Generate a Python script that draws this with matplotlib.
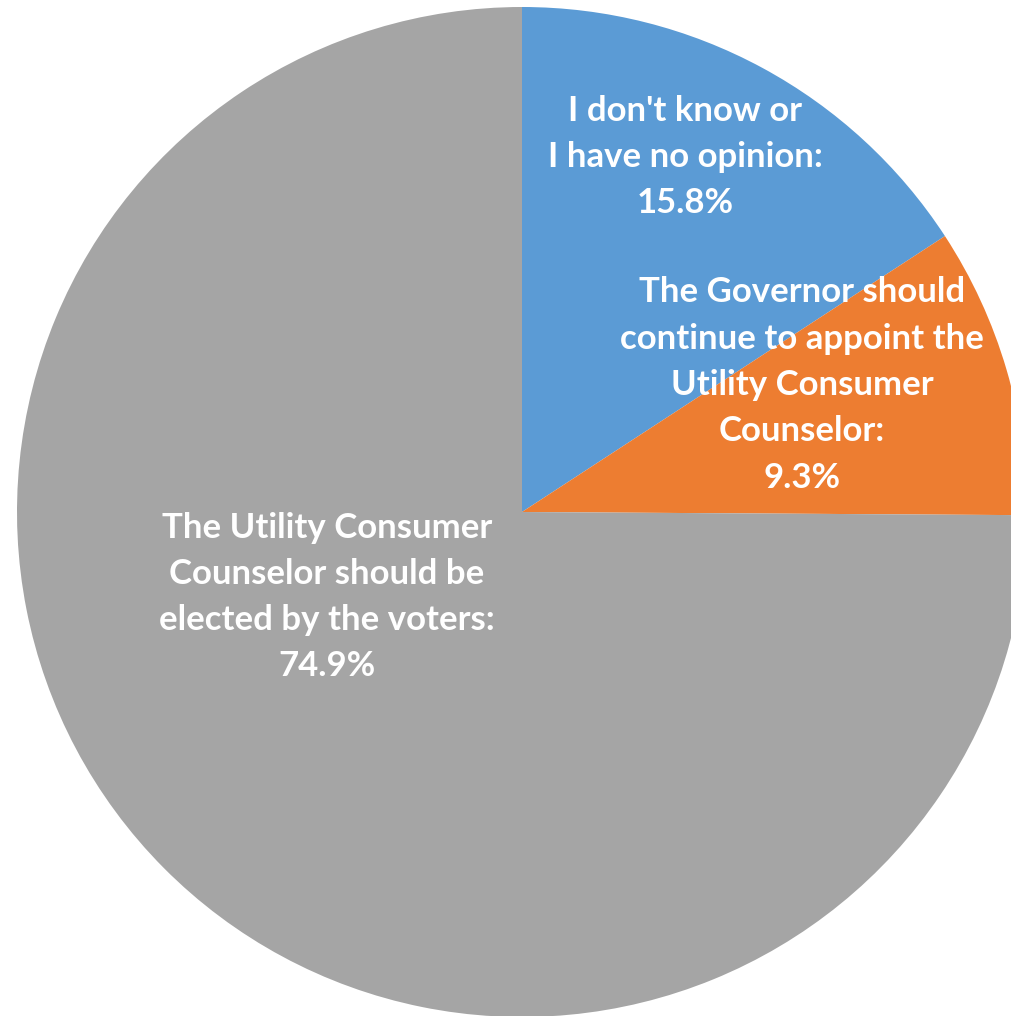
import matplotlib
matplotlib.use("Agg")
import matplotlib.pyplot as plt

categories = ["I don't know or\nI have no opinion:",
              "The Governor should\ncontinue to appoint the\nUtility Consumer\nCounselor:",
              "The Utility Consumer\nCounselor should be\nelected by the voters:"]
values = [15.8, 9.3, 74.9]
colors = ["#5B9BD5", "#ED7D31", "#A5A5A5"]

W, H = 1011, 1016
fig = plt.figure(figsize=(W / 100, H / 100), dpi=100)
ax = fig.add_axes([0, 0, 1, 1])
ax.set_xlim(0, W)
ax.set_ylim(0, H)
ax.set_aspect("equal")
ax.axis("off")

cx, cy, r = 522, H - 512, 505
ax.pie(values, colors=colors, startangle=90, counterclock=False,
       center=(cx, cy), radius=r, frame=True,
       wedgeprops=dict(linewidth=0))
ax.set_xlim(0, W)
ax.set_ylim(0, H)
ax.axis("off")

label_pos = [(685, 157), (802, 385), (327, 597)]
for cat, v, (x, y) in zip(categories, values, label_pos):
    ax.text(x, H - y, f"{cat}\n{v}%", ha="center", va="center",
            color="white", fontsize=25, fontweight="bold",
            family=["Lato", "DejaVu Sans"], linespacing=1.55)

fig.savefig("out.png", dpi=100)
